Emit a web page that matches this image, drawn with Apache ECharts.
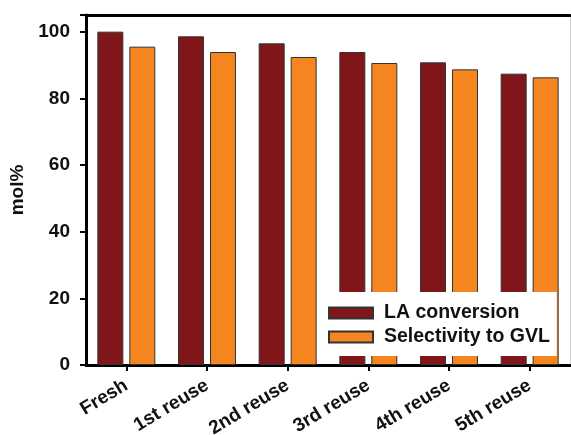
<!DOCTYPE html>
<html>
<head>
<meta charset="utf-8">
<script src="https://cdn.jsdelivr.net/npm/echarts@6/dist/echarts.min.js"></script>
<style>html,body{margin:0;padding:0;background:#fff}#c{width:571px;height:435px}</style>
</head>
<body>
<div id="c"></div>
<script>
var categories = ['Fresh', '1st reuse', '2nd reuse', '3rd reuse', '4th reuse', '5th reuse'];
var laConversion = [100, 98.6, 96.5, 93.9, 90.8, 87.4];
var selectivityGVL = [95.5, 93.9, 92.4, 90.6, 88.7, 86.3];
var yTicks = [0, 20, 40, 60, 80, 100];

var FONT = 'Arial, "Liberation Sans", sans-serif';
var chart = echarts.init(document.getElementById('c'));
chart.setOption({
  animation: false,
  backgroundColor: '#fff',
  grid: { left: 86, right: 1, top: 15, bottom: 70, show: false, containLabel: false, outerBoundsMode: 'none' },
  legend: {
    orient: 'vertical',
    left: 318, top: 292,
    backgroundColor: '#fff',
    padding: [11, 7, 9, 10],
    icon: 'rect',
    itemWidth: 44, itemHeight: 11, itemGap: 4,
    textStyle: { fontFamily: FONT, fontWeight: 'bold', fontSize: 19.5, color: '#111', padding: [0, 0, 0, 6] },
    data: ['LA conversion', 'Selectivity to GVL']
  },
  xAxis: [{
    type: 'category',
    data: categories,
    axisLine: { lineStyle: { color: '#000', width: 3 } },
    axisTick: { show: true, alignWithLabel: true, length: 6, lineStyle: { color: '#000', width: 2 } },
    axisLabel: { rotate: 31, margin: 19, fontFamily: FONT, fontWeight: 'bold', fontSize: 19, color: '#111' }
  }, {
    type: 'category', position: 'top', data: categories,
    axisLine: { show: true, onZero: false, lineStyle: { color: '#000', width: 3 } },
    axisTick: { show: false }, axisLabel: { show: false }
  }],
  yAxis: [{
    type: 'value', min: 0, max: 105, interval: 20,
    name: 'mol%', nameLocation: 'middle', nameGap: 53,
    nameTextStyle: { fontFamily: FONT, fontWeight: 'bold', fontSize: 19, color: '#111' },
    axisLine: { show: true, lineStyle: { color: '#000', width: 3 } },
    axisTick: { show: true, length: 6, lineStyle: { color: '#000', width: 2 } },
    axisLabel: {
      margin: 16, fontFamily: FONT, fontWeight: 'bold', fontSize: 19, color: '#111',
      formatter: function (v) { return yTicks.indexOf(v) >= 0 ? String(v) : ''; }
    },
    splitLine: { show: false }
  }, {
    type: 'value', position: 'right', min: 0, max: 105,
    axisLine: { show: true, onZero: false, lineStyle: { color: '#ccc', width: 1 } },
    axisTick: { show: false }, axisLabel: { show: false }, splitLine: { show: false }
  }],
  series: [{
    name: 'LA conversion', type: 'bar', data: laConversion,
    barWidth: 26, barGap: '23%',
    itemStyle: { color: '#801619', borderColor: '#333', borderWidth: 1 }
  }, {
    name: 'Selectivity to GVL', type: 'bar', data: selectivityGVL,
    barWidth: 26,
    itemStyle: { color: '#f5861f', borderColor: '#333', borderWidth: 1 }
  }]
});
</script>
</body>
</html>
